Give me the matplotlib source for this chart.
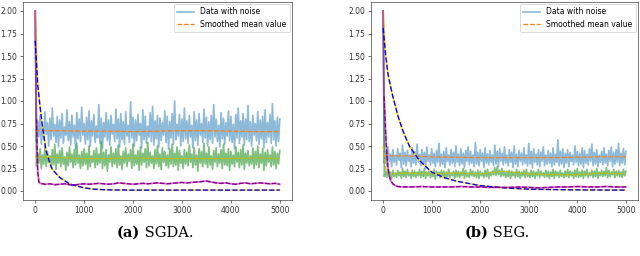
import matplotlib
matplotlib.use("Agg")
import matplotlib.pyplot as plt

# noisy runs: one value read every 25 iterations
x_noise = list(range(0, 5001, 25))
x_smooth = list(range(0, 5001, 500))

# ---- (a) SGDA ----
blue_a = [2.00,
          0.55, 0.78, 0.60, 0.84, 0.52, 0.72, 0.58, 0.88, 0.63, 0.76,
          0.50, 0.81, 0.57, 0.92, 0.61, 0.74, 0.54, 0.83, 0.49, 0.79,
          0.59, 0.86, 0.53, 0.71, 0.62, 0.90, 0.56, 0.77, 0.51, 0.84,
          0.60, 0.73, 0.47, 0.87, 0.58, 0.80, 0.55, 0.93, 0.62, 0.75,
          0.52, 0.82, 0.57, 0.89, 0.50, 0.78, 0.61, 0.85, 0.54, 0.72,
          0.59, 0.96, 0.53, 0.81, 0.48, 0.76, 0.60, 0.87, 0.56, 0.79,
          0.51, 0.84, 0.63, 0.74, 0.55, 0.91, 0.58, 0.80, 0.49, 0.86,
          0.57, 0.77, 0.52, 0.88, 0.61, 0.73, 0.54, 0.99, 0.59, 0.82,
          0.50, 0.79, 0.56, 0.85, 0.62, 0.75, 0.48, 0.90, 0.57, 0.83,
          0.53, 0.72, 0.60, 0.87, 0.55, 0.94, 0.51, 0.78, 0.58, 0.84,
          0.49, 0.81, 0.56, 0.76, 0.62, 0.89, 0.54, 0.83, 0.47, 0.77,
          0.59, 0.86, 0.52, 1.00, 0.57, 0.74, 0.61, 0.85, 0.50, 0.80,
          0.55, 0.92, 0.58, 0.78, 0.53, 0.84, 0.60, 0.73, 0.48, 0.88,
          0.56, 0.79, 0.51, 0.86, 0.62, 0.75, 0.54, 0.91, 0.59, 0.82,
          0.50, 0.77, 0.57, 0.84, 0.53, 0.96, 0.60, 0.80, 0.55, 0.73,
          0.49, 0.87, 0.58, 0.81, 0.52, 0.76, 0.61, 0.89, 0.56, 0.83,
          0.54, 0.74, 0.47, 0.85, 0.59, 0.92, 0.53, 0.78, 0.60, 0.86,
          0.51, 0.80, 0.57, 0.95, 0.55, 0.77, 0.50, 0.84, 0.62, 0.75,
          0.56, 0.88, 0.52, 0.79, 0.58, 0.83, 0.48, 0.90, 0.54, 0.76,
          0.60, 0.85, 0.53, 0.97, 0.57, 0.78, 0.50, 0.82, 0.55, 0.80]
orange_a = [0.67, 0.67, 0.665, 0.665, 0.66, 0.665, 0.67, 0.67, 0.665, 0.66, 0.66]

green_a = [2.00,
           0.28, 0.42, 0.31, 0.47, 0.25, 0.40, 0.30, 0.50, 0.27, 0.44,
           0.32, 0.39, 0.26, 0.46, 0.29, 0.52, 0.24, 0.41, 0.31, 0.45,
           0.27, 0.48, 0.30, 0.38, 0.23, 0.43, 0.28, 0.49, 0.32, 0.41,
           0.26, 0.46, 0.29, 0.53, 0.31, 0.40, 0.25, 0.44, 0.28, 0.47,
           0.30, 0.42, 0.24, 0.50, 0.27, 0.39, 0.32, 0.45, 0.26, 0.48,
           0.29, 0.41, 0.31, 0.55, 0.25, 0.43, 0.28, 0.46, 0.22, 0.40,
           0.32, 0.49, 0.27, 0.42, 0.30, 0.47, 0.26, 0.51, 0.29, 0.39,
           0.24, 0.44, 0.31, 0.48, 0.27, 0.41, 0.33, 0.46, 0.25, 0.52,
           0.28, 0.40, 0.30, 0.45, 0.23, 0.49, 0.29, 0.42, 0.32, 0.47,
           0.26, 0.54, 0.28, 0.43, 0.31, 0.39, 0.25, 0.46, 0.30, 0.50,
           0.27, 0.41, 0.24, 0.48, 0.32, 0.44, 0.28, 0.40, 0.26, 0.47,
           0.30, 0.52, 0.27, 0.42, 0.29, 0.49, 0.23, 0.45, 0.31, 0.39,
           0.25, 0.46, 0.30, 0.43, 0.28, 0.51, 0.32, 0.41, 0.26, 0.48,
           0.29, 0.40, 0.22, 0.47, 0.31, 0.44, 0.27, 0.53, 0.30, 0.42,
           0.26, 0.49, 0.29, 0.39, 0.24, 0.45, 0.32, 0.48, 0.27, 0.41,
           0.31, 0.46, 0.25, 0.52, 0.29, 0.42, 0.28, 0.47, 0.23, 0.44,
           0.30, 0.40, 0.27, 0.49, 0.32, 0.43, 0.26, 0.46, 0.29, 0.51,
           0.24, 0.42, 0.31, 0.45, 0.28, 0.39, 0.30, 0.48, 0.25, 0.44,
           0.29, 0.50, 0.26, 0.41, 0.31, 0.47, 0.23, 0.43, 0.28, 0.46,
           0.32, 0.40, 0.27, 0.49, 0.29, 0.44, 0.25, 0.42, 0.30, 0.45]
yellow_x_a = x_smooth
yellow_a = [0.38, 0.37, 0.36, 0.36, 0.37, 0.36, 0.36, 0.36, 0.36, 0.37, 0.36]

decay_x_a = [0, 50, 100, 150, 220, 300, 350, 500, 700, 850, 1000, 1200, 1500, 2000, 3000, 4000, 5000]
decay_a = [1.67, 1.19, 0.93, 0.71, 0.45, 0.31, 0.24, 0.15, 0.08, 0.055, 0.035, 0.02, 0.012, 0.01, 0.01, 0.01, 0.01]

mag_x_a = [0, 25, 50, 75] + list(range(100, 5001, 100))
mag_a = [2.00, 0.80, 0.22, 0.10,
         0.085, 0.075, 0.08, 0.07, 0.075, 0.08, 0.07, 0.065, 0.075, 0.08,
         0.075, 0.08, 0.085, 0.08, 0.075, 0.08, 0.09, 0.085, 0.08, 0.075,
         0.08, 0.085, 0.08, 0.085, 0.09, 0.085, 0.08, 0.085, 0.09, 0.095,
         0.09, 0.095, 0.10, 0.105, 0.11, 0.10, 0.09, 0.085, 0.09, 0.08,
         0.075, 0.085, 0.09, 0.08, 0.085, 0.09, 0.085, 0.08, 0.085, 0.075]

# ---- (b) SEG ----
blue_b = [2.00,
          0.31, 0.44, 0.28, 0.49, 0.33, 0.41, 0.27, 0.46, 0.32, 0.40,
          0.29, 0.47, 0.34, 0.42, 0.26, 0.51, 0.30, 0.43, 0.28, 0.45,
          0.33, 0.40, 0.27, 0.48, 0.31, 0.44, 0.29, 0.52, 0.32, 0.41,
          0.28, 0.46, 0.30, 0.43, 0.25, 0.49, 0.33, 0.40, 0.29, 0.47,
          0.31, 0.42, 0.27, 0.45, 0.32, 0.53, 0.28, 0.41, 0.30, 0.44,
          0.26, 0.48, 0.33, 0.40, 0.29, 0.46, 0.31, 0.43, 0.27, 0.50,
          0.32, 0.41, 0.28, 0.47, 0.30, 0.42, 0.26, 0.45, 0.33, 0.49,
          0.29, 0.44, 0.31, 0.40, 0.27, 0.54, 0.30, 0.43, 0.28, 0.46,
          0.33, 0.42, 0.26, 0.48, 0.31, 0.41, 0.29, 0.45, 0.32, 0.40,
          0.28, 0.51, 0.30, 0.44, 0.27, 0.47, 0.33, 0.42, 0.29, 0.49,
          0.31, 0.40, 0.28, 0.46, 0.32, 0.43, 0.26, 0.50, 0.30, 0.41,
          0.27, 0.45, 0.33, 0.42, 0.29, 0.48, 0.31, 0.40, 0.28, 0.53,
          0.30, 0.44, 0.26, 0.47, 0.32, 0.41, 0.29, 0.46, 0.27, 0.43,
          0.33, 0.49, 0.28, 0.40, 0.30, 0.45, 0.31, 0.42, 0.27, 0.48,
          0.29, 0.41, 0.32, 0.57, 0.28, 0.44, 0.30, 0.47, 0.26, 0.42,
          0.31, 0.46, 0.27, 0.43, 0.33, 0.40, 0.29, 0.50, 0.32, 0.44,
          0.28, 0.42, 0.30, 0.48, 0.26, 0.45, 0.31, 0.41, 0.29, 0.47,
          0.33, 0.52, 0.28, 0.43, 0.30, 0.46, 0.27, 0.40, 0.32, 0.44,
          0.29, 0.48, 0.31, 0.41, 0.28, 0.45, 0.33, 0.49, 0.27, 0.43,
          0.30, 0.46, 0.32, 0.53, 0.28, 0.42, 0.31, 0.47, 0.29, 0.44]
orange_b = [0.39, 0.39, 0.38, 0.375, 0.37, 0.37, 0.37, 0.37, 0.375, 0.38, 0.38]

green_b = [2.00,
           0.16, 0.22, 0.15, 0.24, 0.17, 0.21, 0.14, 0.23, 0.16, 0.20,
           0.15, 0.23, 0.17, 0.21, 0.14, 0.25, 0.16, 0.22, 0.15, 0.24,
           0.17, 0.20, 0.14, 0.23, 0.16, 0.22, 0.15, 0.21, 0.17, 0.24,
           0.15, 0.22, 0.16, 0.25, 0.14, 0.21, 0.17, 0.23, 0.15, 0.20,
           0.16, 0.24, 0.13, 0.22, 0.17, 0.21, 0.15, 0.23, 0.16, 0.22,
           0.14, 0.21, 0.16, 0.24, 0.15, 0.20, 0.17, 0.22, 0.14, 0.23,
           0.16, 0.22, 0.15, 0.21, 0.17, 0.25, 0.14, 0.23, 0.16, 0.20,
           0.15, 0.24, 0.17, 0.22, 0.16, 0.21, 0.15, 0.23, 0.14, 0.22,
           0.17, 0.20, 0.15, 0.23, 0.16, 0.24, 0.14, 0.21, 0.17, 0.22,
           0.18, 0.26, 0.17, 0.27, 0.18, 0.23, 0.16, 0.25, 0.17, 0.22,
           0.15, 0.21, 0.16, 0.23, 0.14, 0.22, 0.17, 0.20, 0.15, 0.24,
           0.16, 0.22, 0.14, 0.21, 0.17, 0.23, 0.15, 0.24, 0.16, 0.20,
           0.15, 0.23, 0.16, 0.22, 0.14, 0.21, 0.17, 0.24, 0.15, 0.22,
           0.17, 0.20, 0.15, 0.23, 0.16, 0.22, 0.14, 0.21, 0.16, 0.24,
           0.14, 0.22, 0.17, 0.21, 0.15, 0.23, 0.16, 0.20, 0.15, 0.22,
           0.16, 0.24, 0.15, 0.22, 0.17, 0.21, 0.14, 0.23, 0.16, 0.25,
           0.15, 0.21, 0.16, 0.23, 0.14, 0.22, 0.17, 0.24, 0.15, 0.20,
           0.17, 0.23, 0.15, 0.22, 0.16, 0.25, 0.14, 0.21, 0.17, 0.23,
           0.16, 0.22, 0.17, 0.26, 0.15, 0.23, 0.16, 0.21, 0.18, 0.24,
           0.15, 0.22, 0.17, 0.23, 0.16, 0.21, 0.15, 0.24, 0.17, 0.22]
yellow_x_b = [0, 60, 150, 500, 1000, 1500, 2000, 2500, 3000, 3500, 4000, 4500, 5000]
yellow_b = [0.50, 0.22, 0.19, 0.20, 0.19, 0.20, 0.19, 0.22, 0.19, 0.18, 0.18, 0.20, 0.19]

decay_x_b = [0, 50, 100, 150, 200, 313, 400, 483, 550, 653, 750, 823, 1000, 1250, 1500, 2000, 2500, 3000, 4000, 5000]
decay_b = [1.81, 1.52, 1.30, 1.17, 1.05, 0.82, 0.68, 0.57, 0.49, 0.41, 0.34, 0.30, 0.21, 0.15, 0.11, 0.06, 0.035, 0.02, 0.012, 0.01]

mag_x_b = [0, 20, 40, 60, 80, 100, 130, 160, 200, 250, 300] + list(range(400, 5001, 200))
mag_b = [2.00, 1.05, 0.80, 0.55, 0.38, 0.26, 0.16, 0.11, 0.08, 0.06, 0.05,
         0.045, 0.045, 0.05, 0.045, 0.045, 0.045, 0.05, 0.045, 0.045, 0.04, 0.04, 0.04,
         0.045, 0.04, 0.035, 0.04, 0.045, 0.045, 0.05, 0.045, 0.045, 0.05, 0.045, 0.045]

panels = [
    (blue_a, orange_a, green_a, yellow_x_a, yellow_a, decay_x_a, decay_a, mag_x_a, mag_a),
    (blue_b, orange_b, green_b, yellow_x_b, yellow_b, decay_x_b, decay_b, mag_x_b, mag_b),
]

fig = plt.figure(figsize=(6.4, 2.56), dpi=100)
axes = [fig.add_axes([23 / 640, 56 / 256, 269 / 640, 198 / 256]),
        fig.add_axes([371 / 640, 56 / 256, 267 / 640, 198 / 256])]

lw = 0.9
for ax, (bl, orr, gr, yx, ye, dx, de, mx, ma) in zip(axes, panels):
    ax.plot(x_noise, bl, color='tab:blue', alpha=0.5, lw=1.25, label='Data with noise', zorder=1)
    ax.plot(x_smooth, orr, '--', color='tab:orange', lw=lw, label='Smoothed mean value', zorder=3)
    ax.plot(x_noise, gr, color='green', alpha=0.5, lw=1.25, zorder=1)
    ax.plot(yx, ye, '--', color='y', lw=lw, zorder=3)
    # decay run: yellow solid underneath, blue dashed on top
    ax.plot([0] + dx[1:], [2.0] + de[1:], color='gold', lw=1.0, zorder=4)
    ax.plot(dx, de, '--', color='b', lw=1.0, zorder=5)
    ax.plot(mx, ma, color='m', alpha=0.6, lw=1.3, zorder=4)
    ax.plot(mx[1:], ma[1:], '--', color='purple', lw=lw, zorder=5)

    ax.set_ylim(-0.1, 2.1)
    ax.set_xlim(-250, 5250)
    ax.set_yticks([0, 0.25, 0.5, 0.75, 1.0, 1.25, 1.5, 1.75, 2.0])
    ax.set_xticks([0, 1000, 2000, 3000, 4000, 5000])
    ax.tick_params(labelsize=5.5, length=2, width=0.5, pad=2, colors='#333333')
    for s in ax.spines.values():
        s.set_linewidth(0.5)
        s.set_color('#444444')
    leg = ax.legend(loc='upper right', fontsize=5.5, framealpha=1, borderaxespad=0.3,
                    handlelength=2.2)
    leg.get_frame().set_linewidth(0.5)

# sub-captions
cap = dict(fontsize=10.5, family='DejaVu Serif', va='center')
fig.text(140 / 640, 1 - 233 / 256, '(a)', ha='right', weight='bold', **cap)
fig.text(140 / 640, 1 - 233 / 256, ' SGDA.', ha='left', **cap)
fig.text(488 / 640, 1 - 233 / 256, '(b)', ha='right', weight='bold', **cap)
fig.text(488 / 640, 1 - 233 / 256, ' SEG.', ha='left', **cap)

fig.savefig('out.png', dpi=100)
